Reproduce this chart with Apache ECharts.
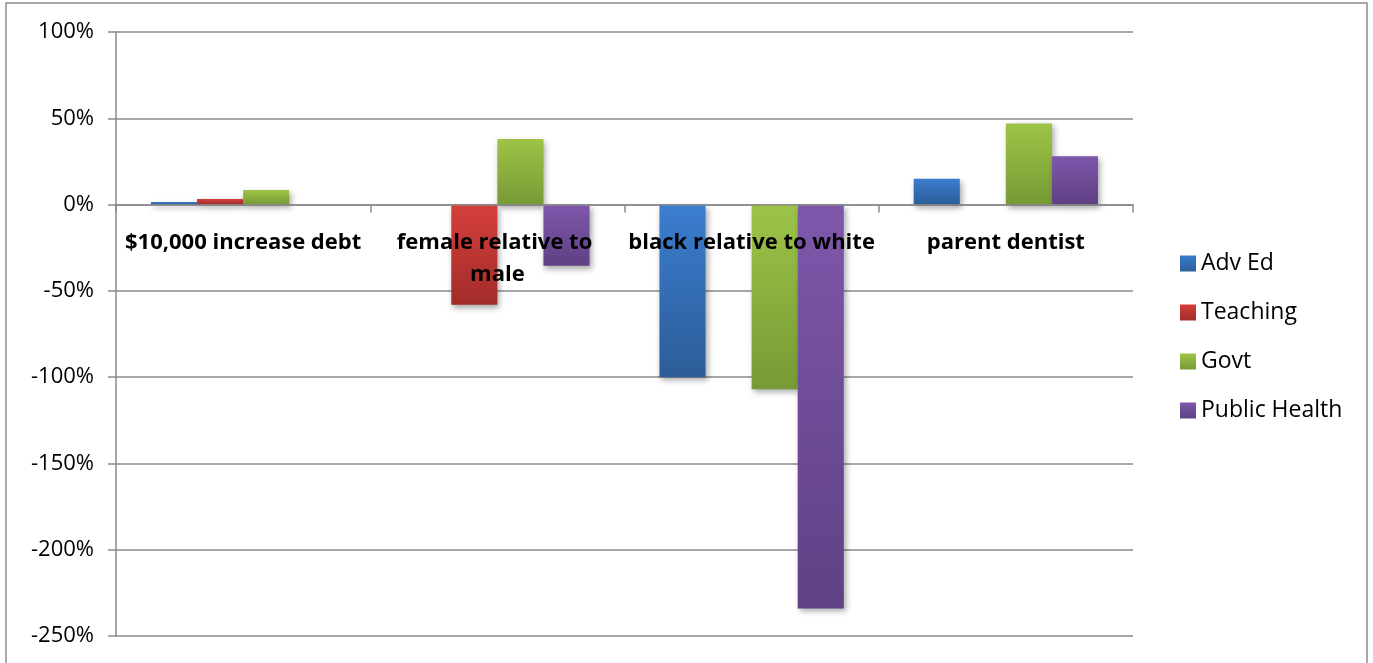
<!DOCTYPE html>
<html>
<head>
<meta charset="utf-8">
<script src="https://cdn.jsdelivr.net/npm/echarts@6/dist/echarts.min.js"></script>
<style>
  html, body { margin: 0; padding: 0; background: #fff; }
  #chart { width: 1373px; height: 663px; }
</style>
</head>
<body>
<div id="chart"></div>
<script>
// Categories and series values (percent)
const categories = ['$10,000 increase debt', 'female relative to male', 'black relative to white', 'parent dentist'];
const advEd        = [1.5, 0, -100, 15];
const teaching     = [3.3, -58, 0, 0];
const govt         = [8.5, 38, -107, 47];
const publicHealth = [0, -35.5, -234, 28];
const seriesNames  = ['Adv Ed', 'Teaching', 'Govt', 'Public Health'];
const yMin = -250, yMax = 100, yStep = 50;

// Light-to-dark vertical fills for each series
const fills = [
  ['#3b7dd0', '#2c5d98'],
  ['#d43f3b', '#a22c29'],
  ['#9dc447', '#779a35'],
  ['#7e57ab', '#5f4184']
];

function grad(c) {
  return new echarts.graphic.LinearGradient(0, 0, 0, 1, [
    { offset: 0, color: c[0] },
    { offset: 1, color: c[1] }
  ]);
}

const gridTop = 32, gridBottom = 27, chartH = 663;
const plotH = chartH - gridTop - gridBottom;
// distance from the bottom of the plot up to the 0% line
const zeroLift = plotH * (0 - yMin) / (yMax - yMin);

const dataSets = [advEd, teaching, govt, publicHealth];
const series = dataSets.map((d, i) => ({
  name: seriesNames[i],
  type: 'bar',
  z: 2,
  data: d,
  barGap: '0%',
  barCategoryGap: '27.5%',
  itemStyle: {
    color: grad(fills[i]),
    shadowColor: 'rgba(0,0,0,0.35)',
    shadowBlur: 6,
    shadowOffsetX: 2,
    shadowOffsetY: 3
  }
}));

const chart = echarts.init(document.getElementById('chart'), null, { renderer: 'canvas' });
chart.setOption({
  animation: false,
  backgroundColor: '#ffffff',
  textStyle: { fontFamily: 'Open Sans, sans-serif' },
  graphic: [{
    type: 'rect',
    shape: { x: 6, y: 3, width: 1361, height: 700 },
    style: { fill: 'none', stroke: '#8c8c8c', lineWidth: 1.5 },
    silent: true
  }],
  grid: {
    left: 116, right: 240, top: gridTop, bottom: gridBottom,
    containLabel: false, outerBoundsMode: 'none'
  },
  legend: {
    orient: 'vertical',
    left: 1175,
    top: 247,
    itemWidth: 16,
    itemHeight: 16,
    itemGap: 26,
    icon: 'rect',
    textStyle: { fontSize: 23, color: '#000', fontFamily: 'Open Sans, sans-serif' },
    data: seriesNames.map((n, i) => ({ name: n, itemStyle: { color: grad(fills[i]) } }))
  },
  xAxis: {
    type: 'category',
    data: categories,
    position: 'bottom',
    offset: -zeroLift,
    z: 10,
    axisLine: { onZero: false, lineStyle: { color: '#8a8a8a', width: 1.5 } },
    axisTick: { show: true, length: 8, lineStyle: { color: '#8a8a8a', width: 1.5 } },
    axisLabel: {
      interval: 0,
      margin: 22,
      fontSize: 22,
      fontWeight: 'bold',
      color: '#000',
      width: 250,
      overflow: 'break',
      lineHeight: 32,
      fontFamily: 'Open Sans, sans-serif'
    },
    splitLine: { show: false }
  },
  yAxis: {
    type: 'value',
    min: yMin,
    max: yMax,
    interval: yStep,
    axisLine: { show: true, lineStyle: { color: '#8a8a8a', width: 1.5 } },
    axisTick: { show: true, length: 8, lineStyle: { color: '#8a8a8a', width: 1.5 } },
    axisLabel: {
      formatter: '{value}%',
      fontSize: 22,
      color: '#000',
      margin: 22,
      fontFamily: 'Open Sans, sans-serif'
    },
    splitLine: { show: true, lineStyle: { color: '#8a8a8a', width: 1.5 } }
  },
  series: series
});
</script>
</body>
</html>
